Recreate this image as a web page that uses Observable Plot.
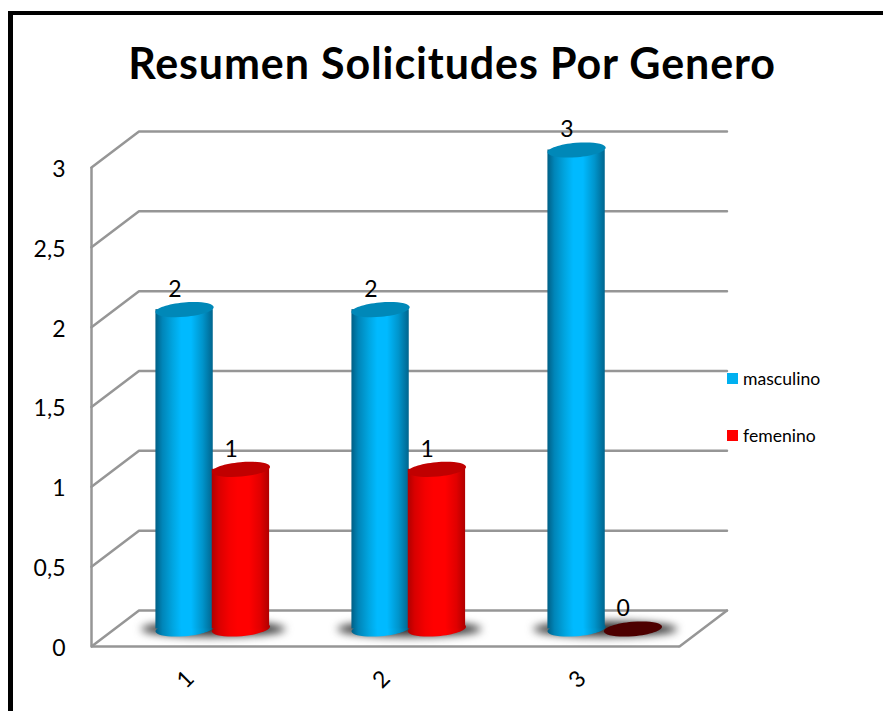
<!DOCTYPE html>
<html><head><meta charset="utf-8">
<script src="https://cdn.jsdelivr.net/npm/d3@7"></script>
<script src="https://cdn.jsdelivr.net/npm/@observablehq/plot@0.6"></script>
<style>
html,body{margin:0;padding:0;background:#fff;overflow:hidden}
#page{position:relative;width:883px;height:711px;overflow:hidden;font-family:Lato,sans-serif;color:#000}
#frame{position:absolute;left:8px;top:11px;width:900px;height:800px;border-left:5px solid #000;border-top:4px solid #000;box-sizing:border-box}
#title{position:absolute;left:0;width:904px;top:36px;text-align:center;font-size:43px;letter-spacing:.87px;line-height:54px;font-weight:700;white-space:nowrap}
#chart{position:absolute;left:0;top:100px}
#legend div{position:absolute;left:743px;font-size:17.6px;line-height:18px}
#legend i{position:absolute;left:-16px;top:3px;width:11px;height:11px}
</style></head><body>
<div id="page">
<div id="frame"></div>
<div id="title"></div>
<div id="chart"></div>
<div id="legend"></div>
</div>
<script>
const titleText = "Resumen Solicitudes Por Genero";
const categories = [1, 2, 3];
const masculino = [2, 2, 3];
const femenino = [1, 1, 0];
const yTicks = [0, 0.5, 1, 1.5, 2, 2.5, 3];
const seriesNames = ["masculino", "femenino"];
const legendColors = ["#00b0f0", "#ff0000"];

document.getElementById("title").textContent = titleText;
const legendTops = [370, 427];
document.getElementById("legend").innerHTML = seriesNames.map((s, i) =>
  `<div style="top:${legendTops[i]}px"><i style="background:${legendColors[i]}"></i>${s}</div>`).join("");

// oblique projection of the box, in data units of the x and y scales
const depthX = 0.2423, depthY = 0.2254;
const barW = 0.2925, overlap = 0.005;
const offX = 23.75, offY = -17.5;

const wall = yTicks.flatMap(v => [
  {x: 0.5, y: v, k: v},
  {x: 0.5 + depthX, y: v + depthY, k: v},
  {x: 3.5 + depthX, y: v + depthY, k: v}
]);
const floorEnd = [{x: 3.5, y: 0}, {x: 3.5 + depthX, y: depthY}];

const rows = categories.flatMap((c, i) => [
  {c, s: "masculino", v: masculino[i], x1: c - barW, x2: c},
  {c, s: "femenino", v: femenino[i], x1: c - overlap, x2: c - overlap + barW}
]);
rows.forEach(d => d.mid = (d.x1 + d.x2) / 2);
const blue = rows.filter(d => d.s === "masculino");
const red = rows.filter(d => d.s === "femenino" && d.v > 0);
const flat = rows.filter(d => d.v === 0);

// rotated ellipse symbol
function ellipse(rx, ry, deg) {
  const t = deg * Math.PI / 180, c = Math.cos(t), s = Math.sin(t), k = 0.5523;
  const P = (a, b) => [a * rx * c - b * ry * s, a * rx * s + b * ry * c];
  return {draw(ctx) {
    ctx.moveTo(...P(1, 0));
    ctx.bezierCurveTo(...P(1, k), ...P(k, 1), ...P(0, 1));
    ctx.bezierCurveTo(...P(-k, 1), ...P(-1, k), ...P(-1, 0));
    ctx.bezierCurveTo(...P(-1, -k), ...P(-k, -1), ...P(0, -1));
    ctx.bezierCurveTo(...P(k, -1), ...P(1, -k), ...P(1, 0));
    ctx.closePath();
  }};
}
const capSym = ellipse(29.2, 7.2, -5);
const shadowSym = ellipse(72, 7.5, 0);
const blur = (index, scales, values, dims, ctx, next) => {
  const g = next(index, scales, values, dims, ctx);
  g.style.filter = "blur(4px)";
  return g;
};

function cylinder(data, grad, capColor) {
  return [
    Plot.dot(data, {x: "mid", y: () => 0, symbol: capSym, r: 1, fill: `url(#${grad})`, stroke: "none", dx: offX, dy: offY}),
    Plot.rectY(data, {x1: "x1", x2: "x2", y: "v", fill: `url(#${grad})`, dx: offX, dy: offY}),
    Plot.dot(data, {x: "mid", y: "v", symbol: capSym, r: 1, fill: capColor, stroke: "none", dx: offX, dy: offY})
  ];
}

const gridStyle = {stroke: "#969696", strokeWidth: 2.5};
const plot = Plot.plot({
  width: 883, height: 611,
  marginLeft: 91, marginRight: 204, marginTop: 67, marginBottom: 65,
  x: {domain: [0.5, 3.5]},
  y: {domain: [0, 3]},
  style: {fontFamily: "Lato, sans-serif", background: "transparent", overflow: "visible"},
  marks: [
    Plot.line(wall, {x: "x", y: "y", z: "k", strokeLinejoin: "miter", ...gridStyle}),
    Plot.line(floorEnd, {x: "x", y: "y", ...gridStyle}),
    Plot.ruleX([0.5], {y1: 0, y2: 3, ...gridStyle}),
    Plot.ruleY([0], {x1: 0.5, x2: 3.5, ...gridStyle}),
    Plot.dot(categories, {x: d => d, y: () => 0, symbol: shadowSym, r: 1, fill: "#333", stroke: "none", dx: offX, dy: offY, render: blur}),
    Plot.dot(flat, {x: "mid", y: "v", symbol: capSym, r: 1, fill: "#4d0000", stroke: "none", dx: offX, dy: offY}),
    ...cylinder(blue, "gradBlue", "#0088b8"),
    ...cylinder(red, "gradRed", "#c00000"),
    Plot.text(rows, {x: "mid", y: "v", text: d => String(d.v), dx: 14, dy: -37.5, fontSize: 23, fill: "#000"}),
    Plot.axisY({ticks: yTicks, tickSize: 0, tickPadding: 26, fontSize: 23, dy: 2, tickFormat: d => String(d).replace(".", ","), label: null}),
    Plot.axisX({ticks: categories, tickSize: 0, tickPadding: 33, dx: -4, fontSize: 23, tickRotate: -45, textAnchor: "middle", tickFormat: d => String(d), label: null})
  ]
});
const svg = d3.select(plot);
const defs = svg.insert("defs", ":first-child");
function grad(id, stops) {
  const g = defs.append("linearGradient").attr("id", id).attr("x1", 0).attr("x2", 1).attr("y1", 0).attr("y2", 0);
  stops.forEach(([o, c]) => g.append("stop").attr("offset", o).attr("stop-color", c));
}
grad("gradBlue", [[0, "#005f85"], [0.12, "#0085b8"], [0.3, "#00a5e0"], [0.45, "#00baff"], [0.62, "#00baff"], [0.82, "#0095cc"], [1, "#00658e"]]);
grad("gradRed", [[0, "#b00000"], [0.12, "#d80000"], [0.3, "#f40000"], [0.45, "#ff0000"], [0.65, "#ff0000"], [0.85, "#e00000"], [1, "#b00000"]]);
document.getElementById("chart").append(plot);
</script>
</body></html>
